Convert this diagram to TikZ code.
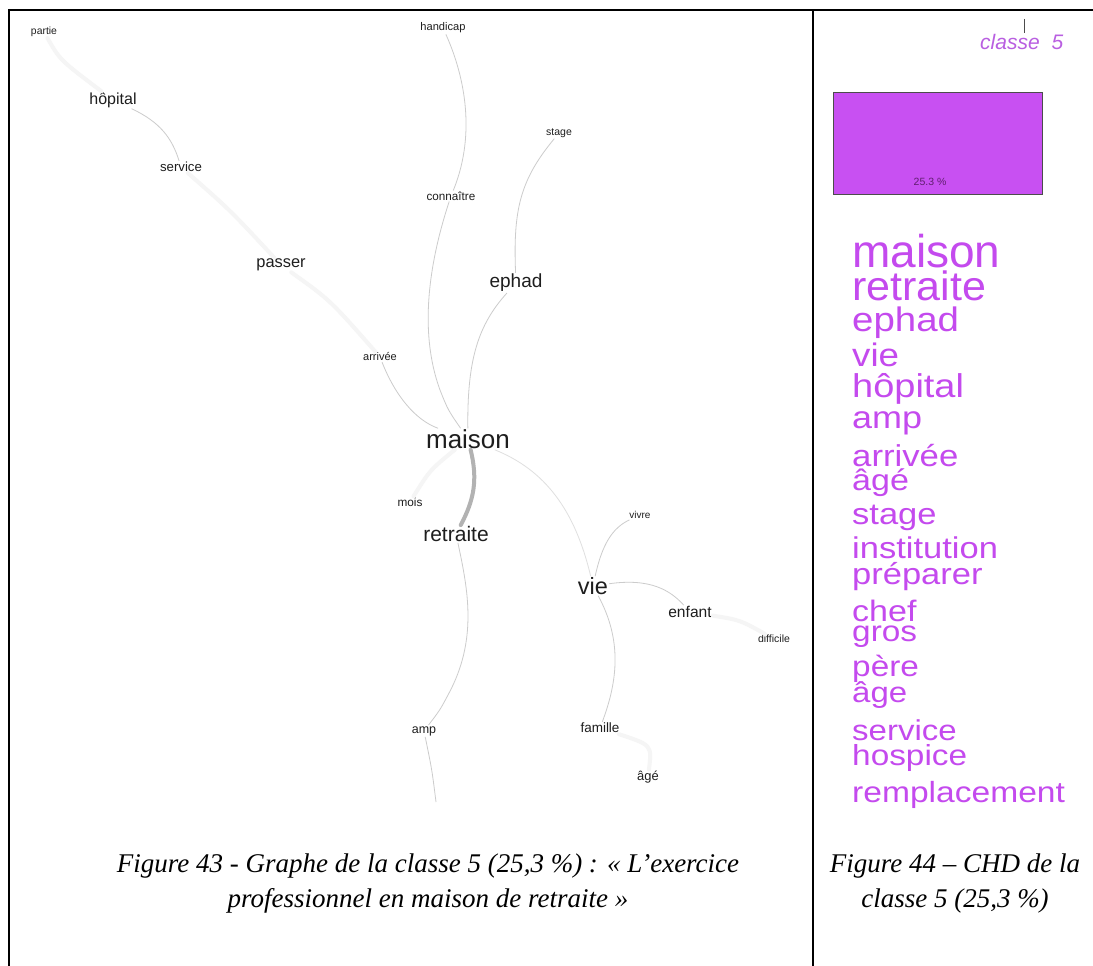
\documentclass[tikz,border=0pt]{standalone}
\usepackage{fontspec}
\usepackage{graphicx}
\setmainfont{Liberation Serif}
\newfontfamily\arial{Liberation Sans}
\definecolor{cp}{RGB}{196,74,238}
\definecolor{cpfill}{RGB}{200,80,242}
\definecolor{cplabel}{RGB}{185,95,225}
\definecolor{cpdark}{RGB}{95,30,110}
\definecolor{wordcol}{RGB}{30,30,30}
\newcommand\widetext[1]{\scalebox{1.15}[1]{#1}}
\begin{document}
\begin{tikzpicture}[x=1pt,y=-1pt,
  w/.style={font=\arial\fontsize{#1}{#1}\selectfont, text=wordcol, inner sep=1pt},
  lw/.style={font=\arial\fontsize{#1}{#1}\selectfont, text=cp, anchor=base west, inner sep=0pt},
  edge/.style={draw=black!20, line width=0.8pt},
  faint/.style={draw=black!4, line width=4pt, line cap=round},
  heavy/.style={draw=black!30, line width=4pt, line cap=round},
  frame/.style={draw=black, line width=2.5pt},
  captext/.style={font=\itshape\fontsize{27}{35}\selectfont, align=center, inner sep=0pt}]
\useasboundingbox (0,0) rectangle (1093,966);
\fill[white] (0,0) rectangle (1093,966);

% ---------------- graph words ----------------
\node[w=10.4] (partie) at (44,32) {partie};
\node[w=16] (hopital) at (113,100) {hôpital};
\node[w=13.2] (service) at (181,167) {service};
\node[w=16.4] (passer) at (281,265) {passer};
\node[w=11.1] (handicap) at (443,28) {handicap};
\node[w=10.5] (stage) at (559,133) {stage};
\node[w=11.7] (connaitre) at (451,196) {connaître};
\node[w=19] (ephad) at (516,283) {ephad};
\node[w=11] (arrivee) at (380,357) {arrivée};
\node[w=26] (maison) at (468,439) {maison};
\node[w=11.8] (mois) at (410,502) {mois};
\node[w=21] (retraite) at (456,534) {retraite};
\node[w=10] (vivre) at (640,515) {vivre};
\node[w=23.5] (vie) at (593,586) {vie};
\node[w=15.6] (enfant) at (690,612) {enfant};
\node[w=10.5] (difficile) at (774,639) {difficile};
\node[w=12.5] (amp) at (424,731) {amp};
\node[w=13.5] (famille) at (600,728) {famille};
\node[w=12.9] (agee) at (648,777) {âgé};
\coordinate (below) at (436,802);

% ---------------- graph edges ----------------
\draw[faint] (partie) .. controls (60,60) .. (hopital);
\draw[faint] (service) .. controls (230,210) .. (passer);
\draw[faint] (passer) .. controls (330,300) .. (arrivee);
\draw[faint] (maison) .. controls (430,470) .. (mois);
\draw[faint] (enfant) .. controls (740,620) .. (difficile);
\draw[faint] (famille) .. controls (652,745) .. (agee);
\draw[edge] (hopital) .. controls (160,122) and (172,138) .. (service);
\draw[edge] (handicap) .. controls (462,70) and (478,130) .. (connaitre);
\draw[edge] (connaitre) .. controls (430,260) and (418,330) .. (440,390) .. controls (448,410) .. (maison);
\draw[edge] (stage) .. controls (520,180) and (513,210) .. (ephad);
\draw[edge] (ephad) .. controls (478,325) and (467,360) .. (maison);
\draw[edge] (arrivee) .. controls (395,395) and (415,420) .. (maison);
\draw[heavy] (maison) .. controls (478,480) and (474,500) .. (retraite);
\draw[edge] (retraite) .. controls (468,590) and (478,640) .. (448,695) .. controls (440,710) .. (amp);
\begin{scope}
\clip (20,0) rectangle (805,802);
\draw[edge] (amp) .. controls (432,770) .. (below);
\end{scope}
\draw[edge, draw=black!12] (maison) .. controls (545,470) and (575,510) .. (vie);
\draw[edge] (vie) .. controls (602,545) and (612,528) .. (vivre);
\draw[edge] (vie) .. controls (650,578) and (670,590) .. (enfant);
\draw[edge] (vie) .. controls (622,640) and (618,680) .. (famille);

% ---------------- right panel ----------------
\draw[black!70, line width=0.8pt] (1024,19) -- (1024,33);
\node[font=\arial\itshape\fontsize{21}{21}\selectfont, text=cplabel, anchor=base west, inner sep=0pt] (classe) at (980,50) {classe\hspace{12pt}5};
\node[draw=black!70, line width=0.6pt, fill=cpfill, minimum width=209pt, minimum height=102pt, inner sep=0pt] (bar) at (937.5,143) {};
\node[font=\arial\fontsize{10.5}{10.5}\selectfont, text=cpdark, inner sep=0pt] (pct) at (930,182) {25.3 \%};

\node[lw=46] (l1) at (852,267) {maison};
\node[lw=41] (l2) at (852,300) {\scalebox{1.05}[1]{retraite}};
\node[lw=34] (l3) at (852,331) {\scalebox{1.13}[1]{ephad}};
\node[lw=32.5] (l4) at (852,366) {\scalebox{1.13}[1]{vie}};
\node[lw=33] (l5) at (852,397) {\widetext{hôpital}};
\node[lw=31.3] (l6) at (852,428) {\widetext{amp}};
\node[lw=30.2] (l7) at (852,466) {\widetext{arrivée}};
\node[lw=29.6] (l8) at (852,490) {\widetext{âgé}};
\node[lw=30] (l9) at (852,524) {\widetext{stage}};
\node[lw=30] (l10) at (852,558) {\widetext{institution}};
\node[lw=30] (l11) at (852,584) {\widetext{préparer}};
\node[lw=29.6] (l12) at (852,621) {\widetext{chef}};
\node[lw=29] (l13) at (852,641) {\widetext{gros}};
\node[lw=29] (l14) at (852,676) {\widetext{père}};
\node[lw=28.7] (l15) at (852,702) {\widetext{âge}};
\node[lw=28.7] (l16) at (852,740) {\widetext{service}};
\node[lw=29] (l17) at (852,765) {\widetext{hospice}};
\node[lw=29.2] (l18) at (852,802) {\widetext{remplacement}};

% ---------------- frame ----------------
\draw[frame] (8,10) -- (1093,10);
\draw[frame] (9,9) -- (9,966);
\draw[frame] (813,10) -- (813,966);

% ---------------- captions ----------------
\node[captext] (cap1) at (428,883) {Figure 43 - Graphe de la classe 5 (25,3 \%) : « L’exercice\\professionnel en maison de retraite »};
\node[captext] (cap2) at (955,883) {Figure 44 – CHD de la\\classe 5 (25,3 \%)};
\end{tikzpicture}
\end{document}
